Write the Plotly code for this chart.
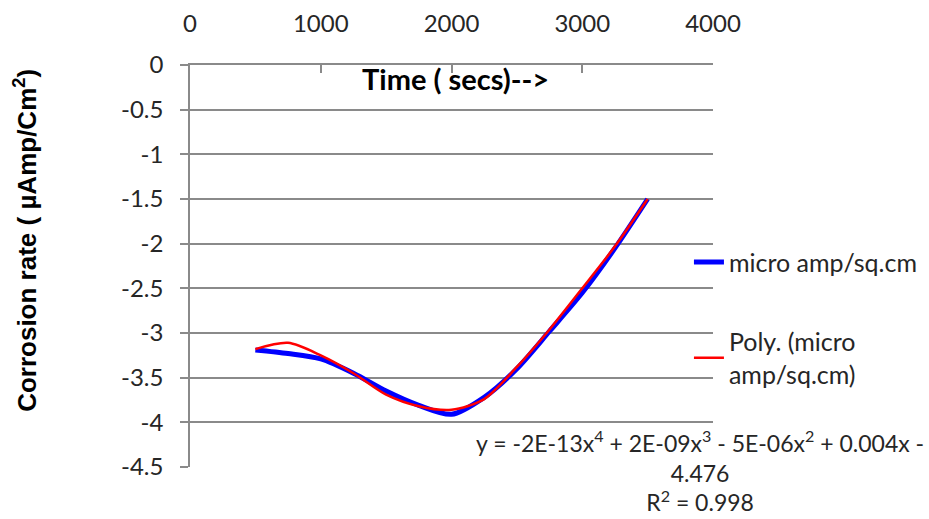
import plotly.graph_objects as go

# Measured corrosion rate vs. time
time_s = [500, 750, 1000, 1250, 1500, 1750, 2000, 2250, 2500, 2750, 3000, 3250, 3500]
rate = [-3.19, -3.23, -3.29, -3.45, -3.65, -3.81, -3.91, -3.72, -3.40, -2.98, -2.55, -2.05, -1.50]

# 4th-order polynomial trendline values
trend = [-3.18, -3.11, -3.25, -3.45, -3.69, -3.82, -3.86, -3.74, -3.38, -2.96, -2.50, -2.03, -1.50]

x_ticks = [0, 1000, 2000, 3000, 4000]
y_ticks = [0, -0.5, -1, -1.5, -2, -2.5, -3, -3.5, -4, -4.5]

series_name = "micro amp/sq.cm"
trend_name = "Poly. (micro<br>amp/sq.cm)"
equation = ("y = -2E-13x<sup>4</sup> + 2E-09x<sup>3</sup> - 5E-06x<sup>2</sup> + 0.004x -"
            "<br>4.476<br>R<sup>2</sup> = 0.998")

grey = "#8a8a8a"
text_col = "#262626"
font_main = "Lato, 'Open Sans', sans-serif"

fig = go.Figure()
fig.add_trace(go.Scatter(
    x=time_s, y=rate, mode="lines", name=series_name, legendgroup="a",
    line=dict(color="#0000ff", width=5, shape="spline", smoothing=0.8),
))
fig.add_trace(go.Scatter(
    x=time_s, y=trend, mode="lines", name=trend_name, legendgroup="b",
    line=dict(color="#ff0000", width=2.5, shape="spline", smoothing=0.8),
))

fig.update_layout(
    width=929, height=519,
    margin=dict(l=190, r=216, t=65, b=52, autoexpand=False),
    paper_bgcolor="white", plot_bgcolor="white",
    font=dict(family=font_main, size=23, color=text_col),
    showlegend=True,
    legend=dict(
        x=0.954, xanchor="left", y=0.37, yanchor="middle",
        font=dict(size=25, color=text_col),
        itemwidth=30, tracegroupgap=44,
        bgcolor="rgba(0,0,0,0)",
    ),
    xaxis=dict(
        side="top", range=[0, 4000], tickvals=x_ticks,
        showgrid=False, zeroline=False,
        showline=True, linecolor=grey, linewidth=1.5,
        ticks="inside", ticklen=8, tickcolor=grey, tickwidth=1.5,
        ticklabelstandoff=22,
        tickfont=dict(size=24, color=text_col),
    ),
    yaxis=dict(
        range=[-4.5, 0], tickvals=y_ticks,
        ticktext=[f"{v:g}" for v in y_ticks],
        showgrid=True, gridcolor=grey, gridwidth=1.5,
        zeroline=False,
        showline=True, linecolor=grey, linewidth=1.5,
        ticks="outside", ticklen=8, tickcolor=grey, tickwidth=1.5,
        ticklabelstandoff=12,
        tickfont=dict(size=24, color=text_col),
    ),
)

# y-axis title
fig.add_annotation(
    text="<b>Corrosion rate ( µAmp/Cm<sup>2</sup>)</b>",
    x=-0.3136, y=0.565, xref="paper", yref="paper", textangle=-90,
    showarrow=False, xanchor="center", yanchor="middle",
    font=dict(family="Liberation Sans, Arial, sans-serif", size=26, color="black"),
)

# time axis title, drawn inside the plot near the top
fig.add_annotation(
    text="<b>Time ( secs)--></b>", x=2027, y=-0.146, xref="x", yref="y",
    showarrow=False, font=dict(family=font_main, size=29, color="black"),
    xanchor="center", yanchor="middle",
)

# trendline equation
fig.add_annotation(
    text=equation, x=0.975, y=-0.01, xref="paper", yref="paper",
    showarrow=False, align="center", xanchor="center", yanchor="middle",
    font=dict(family=font_main, size=23, color=text_col),
)

fig.write_html("out.html")
